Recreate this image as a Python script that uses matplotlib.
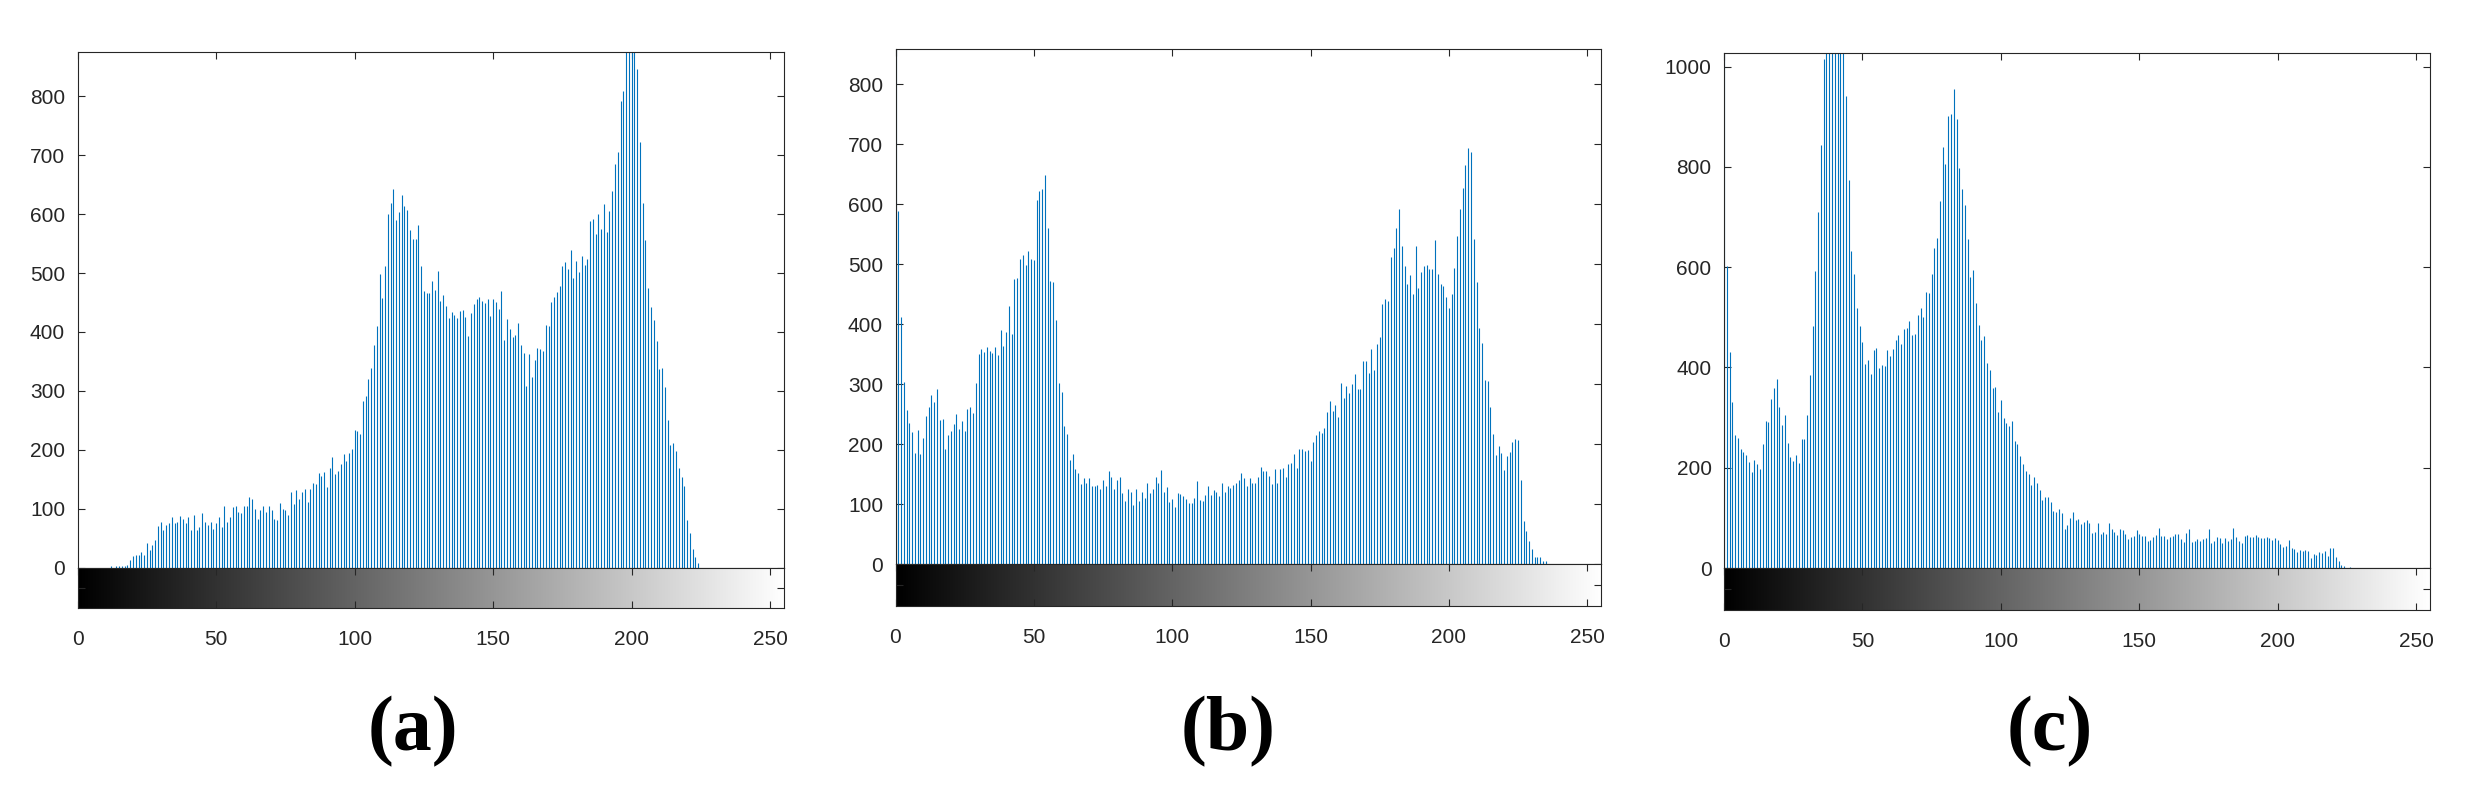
import numpy as np
import matplotlib.pyplot as plt

# -------------------------
# Histogram counts (256 grey levels)
# -------------------------
levels = np.arange(256)

counts_a = [
    0, 0, 0, 0, 0, 0, 0, 0, 0, 0,
    0, 0, 2, 0, 3, 3, 3, 3, 5, 12,
    19, 22, 22, 27, 22, 41, 29, 39, 46, 71,
    78, 63, 73, 76, 85, 76, 78, 88, 83, 76,
    85, 63, 90, 63, 69, 93, 78, 73, 78, 66,
    75, 85, 68, 105, 78, 85, 103, 105, 95, 93,
    105, 105, 119, 117, 100, 83, 98, 105, 95, 105,
    97, 83, 80, 110, 100, 98, 90, 129, 107, 132,
    117, 129, 134, 112, 134, 144, 142, 161, 156, 163,
    136, 169, 188, 159, 164, 175, 192, 181, 195, 202,
    234, 231, 227, 283, 292, 320, 339, 378, 410, 498,
    458, 512, 600, 619, 642, 590, 603, 632, 614, 607,
    573, 558, 558, 581, 512, 469, 466, 466, 486, 471,
    503, 453, 463, 444, 424, 434, 429, 424, 436, 437,
    425, 393, 432, 447, 456, 459, 453, 449, 456, 427,
    456, 451, 439, 469, 386, 422, 405, 392, 395, 415,
    378, 364, 308, 363, 324, 353, 373, 371, 368, 412,
    410, 451, 459, 468, 478, 512, 519, 507, 539, 492,
    520, 502, 529, 514, 524, 588, 592, 566, 600, 575,
    617, 569, 605, 639, 686, 705, 792, 810, 905, 960,
    940, 890, 846, 722, 619, 556, 475, 442, 420, 385,
    337, 339, 307, 251, 208, 212, 198, 169, 154, 139,
    81, 59, 32, 17, 8, 0, 0, 0, 0, 0,
    0, 0, 0, 0, 0, 0, 0, 0, 0, 0,
    0, 0, 0, 0, 0, 0, 0, 0, 0, 0,
    0, 0, 0, 0, 0, 0,
]

counts_b = [
    1150, 589, 412, 304, 257, 235, 220, 185, 224, 184,
    210, 247, 262, 282, 271, 292, 241, 242, 192, 215,
    222, 234, 251, 225, 239, 222, 259, 262, 252, 302,
    351, 359, 354, 363, 356, 353, 363, 349, 390, 364,
    388, 431, 384, 476, 478, 509, 516, 499, 523, 509,
    508, 607, 622, 626, 649, 560, 472, 470, 407, 302,
    287, 230, 217, 174, 184, 159, 152, 134, 144, 136,
    144, 131, 131, 132, 126, 141, 131, 156, 146, 126,
    141, 146, 119, 105, 126, 121, 99, 126, 105, 121,
    110, 136, 119, 126, 146, 136, 157, 121, 129, 104,
    109, 95, 119, 117, 114, 109, 102, 102, 110, 139,
    107, 105, 116, 131, 116, 124, 121, 114, 136, 121,
    131, 127, 132, 136, 141, 152, 144, 131, 144, 136,
    136, 146, 162, 156, 156, 147, 134, 159, 136, 159,
    161, 146, 167, 169, 184, 161, 193, 193, 189, 191,
    172, 204, 216, 223, 219, 228, 254, 273, 256, 265,
    246, 303, 278, 298, 285, 300, 317, 293, 293, 339,
    339, 319, 359, 324, 367, 379, 434, 443, 439, 513,
    528, 560, 592, 531, 498, 468, 483, 451, 531, 461,
    488, 498, 499, 493, 493, 540, 484, 468, 464, 446,
    427, 451, 494, 548, 593, 628, 666, 694, 687, 543,
    471, 394, 369, 307, 305, 262, 217, 182, 197, 185,
    158, 180, 187, 204, 209, 207, 141, 72, 55, 39,
    25, 13, 13, 12, 5, 5, 0, 0, 0, 0,
    0, 0, 0, 0, 0, 0, 0, 0, 0, 0,
    0, 0, 0, 0, 0, 0,
]

counts_c = [
    1200, 602, 431, 332, 265, 259, 238, 232, 226, 211,
    191, 215, 207, 198, 248, 294, 292, 337, 359, 377,
    321, 286, 305, 250, 222, 213, 226, 209, 257, 257,
    305, 385, 483, 592, 710, 843, 1015, 1150, 1250, 1300,
    1280, 1220, 1150, 1080, 941, 774, 632, 587, 519, 483,
    451, 407, 415, 387, 435, 439, 399, 405, 403, 435,
    423, 437, 455, 465, 447, 477, 479, 492, 465, 467,
    504, 519, 500, 550, 548, 587, 638, 658, 731, 839,
    805, 901, 905, 955, 895, 797, 756, 723, 656, 580,
    594, 529, 485, 455, 463, 409, 395, 359, 361, 311,
    335, 299, 289, 283, 294, 253, 248, 224, 207, 194,
    187, 166, 182, 170, 156, 136, 142, 142, 132, 114,
    112, 118, 110, 78, 86, 100, 112, 96, 98, 88,
    92, 96, 90, 70, 72, 90, 68, 72, 68, 90,
    78, 72, 66, 78, 76, 68, 57, 62, 64, 76,
    68, 64, 64, 53, 55, 62, 66, 80, 64, 64,
    57, 62, 64, 68, 68, 57, 51, 70, 78, 51,
    53, 57, 53, 57, 60, 78, 50, 54, 62, 60,
    50, 60, 54, 58, 80, 62, 54, 50, 64, 66,
    62, 62, 66, 62, 60, 60, 62, 60, 56, 60,
    56, 48, 42, 44, 56, 40, 38, 32, 36, 34,
    36, 34, 20, 28, 26, 32, 30, 34, 24, 40,
    40, 22, 14, 6, 4, 0, 2, 0, 0, 0,
    0, 0, 0, 0, 0, 0, 0, 0, 0, 0,
    0, 0, 0, 0, 0, 0, 0, 0, 0, 0,
    0, 0, 0, 0, 0, 0,
]

panel_labels = ['(a)', '(b)', '(c)']
y_tops = [876, 859, 1027]
y_steps = [100, 100, 200]
x_ticks = [0, 50, 100, 150, 200, 250]

# -------------------------
# Layout (figure fractions)
# -------------------------
W, H = 2473, 792
# left, right, top of histogram, zero line, bottom of grey bar (pixels)
boxes = [
    (77.6, 784, 51.7, 567.5, 608),
    (895.5, 1601, 49, 564.4, 606),
    (1724, 2430, 53, 568, 610),
]
label_x = [413, 1228, 2050]

bar_color = '#0072BD'
frame_color = '#262626'

plt.rcParams['font.family'] = ['Liberation Sans', 'DejaVu Sans']
fig = plt.figure(figsize=(W / 100, H / 100), dpi=100)

gradient = np.arange(256).reshape(1, 256)

for counts, top, step, box, lab, lx in zip(
        [counts_a, counts_b, counts_c], y_tops, y_steps, boxes, panel_labels, label_x):
    left, right, ytop, yzero, ybot = box

    # histogram part
    ax = fig.add_axes([left / W, 1 - yzero / H, (right - left) / W, (yzero - ytop) / H])
    ax.vlines(levels, 0, counts, color=bar_color, linewidth=0.8)
    ax.set_xlim(0, 255)
    ax.set_ylim(0, top)
    ax.set_xticks(x_ticks)
    ax.set_yticks(np.arange(0, top + 1, step))
    ax.tick_params(axis='both', direction='in', length=5, width=0.8, colors=frame_color,
                   labelsize=15, top=True, right=True, bottom=False,
                   labelbottom=False, pad=9)
    for s in ax.spines.values():
        s.set_color(frame_color)
        s.set_linewidth(0.8)

    # grey level bar underneath
    cb = fig.add_axes([left / W, 1 - ybot / H, (right - left) / W, (ybot - yzero) / H])
    cb.imshow(gradient, cmap='gray', aspect='auto', extent=[0, 255, 0, 1], vmin=0, vmax=255)
    cb.set_xlim(0, 255)
    cb.set_ylim(0, 1)
    cb.set_xticks(x_ticks)
    cb.set_yticks([0.5])
    cb.tick_params(axis='both', direction='in', length=5, width=0.8, colors=frame_color,
                   labelsize=15, top=True, right=True, labelleft=False)
    cb.tick_params(axis='x', pad=16)
    for s in cb.spines.values():
        s.set_color(frame_color)
        s.set_linewidth(0.8)

    fig.text(lx / W, 1 - 732 / H, lab, ha='center', va='center', fontsize=56,
             fontweight='bold', family=['Liberation Serif', 'DejaVu Serif'])

fig.savefig('out.png', dpi=100)
